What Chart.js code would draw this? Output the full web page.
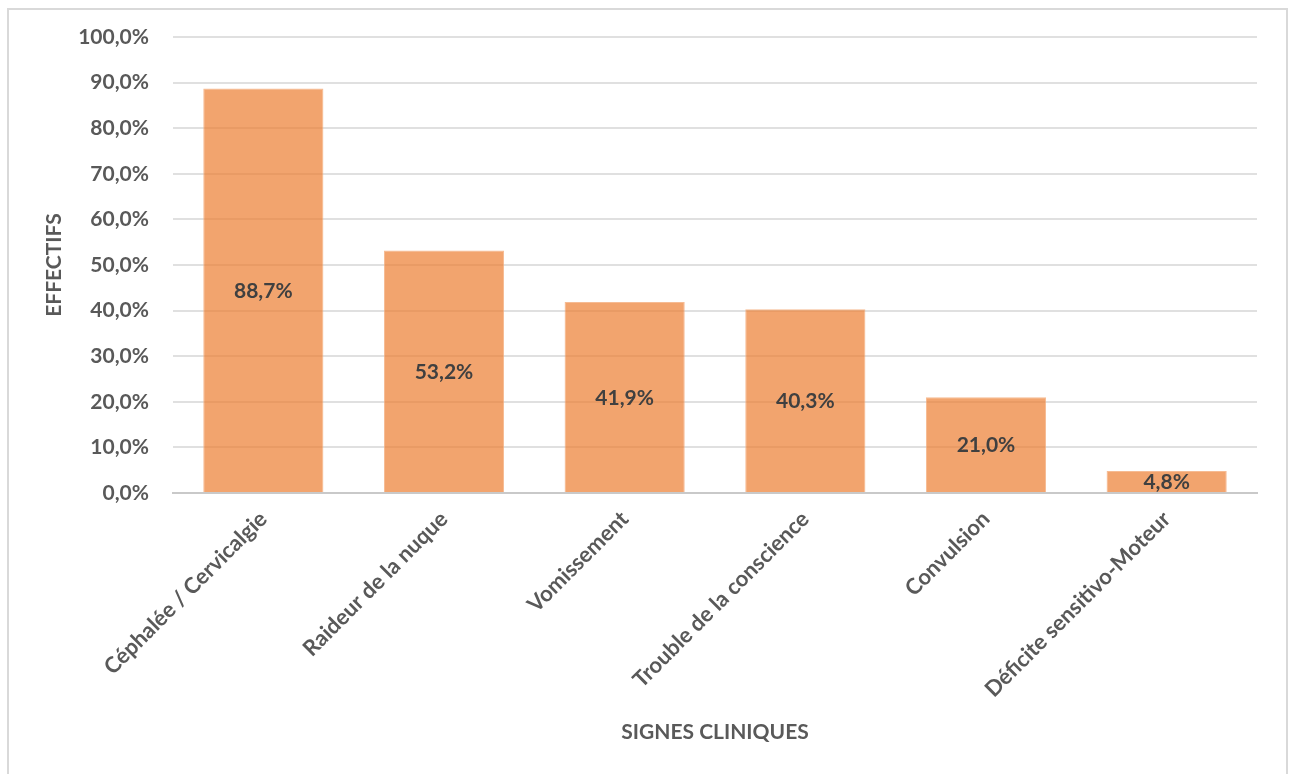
<!DOCTYPE html>
<html>
<head>
<meta charset="utf-8">
<script src="https://cdn.jsdelivr.net/npm/chart.js@4"></script>
<style>
  body { margin:0; background:#fff; }
  #wrap { position:relative; width:1290px; height:774px; overflow:hidden; }
  #frame { position:absolute; left:7px; top:8px; width:1277px; height:790px; border:2px solid #d9d9d9; }
  #chart { position:absolute; left:0; top:0; }
</style>
</head>
<body>
<div id="wrap">
  <div id="frame"></div>
  <canvas id="chart" width="1290" height="774"></canvas>
</div>
<script>
const signes = ['Céphalée / Cervicalgie','Raideur de la nuque','Vomissement','Trouble de la conscience','Convulsion','Déficite sensitivo-Moteur'];
const pourcentages = [88.7, 53.2, 41.9, 40.3, 21.0, 4.8];
const yTicks = [0,10,20,30,40,50,60,70,80,90,100];

const fmt = v => v.toFixed(1).replace('.', ',') + '%';
const FONT = 'Lato, "Open Sans", sans-serif';

// value labels centred in each bar
const barLabels = {
  id:'barLabels',
  afterDatasetsDraw(chart){
    const ctx = chart.ctx;
    const meta = chart.getDatasetMeta(0);
    ctx.save();
    ctx.font = 'bold 21px ' + FONT;
    ctx.fillStyle = '#404040';
    ctx.textAlign = 'center';
    ctx.textBaseline = 'middle';
    meta.data.forEach((bar, i) => {
      const p = bar.getCenterPoint();
      ctx.fillText(fmt(pourcentages[i]), p.x, p.y + 1);
    });
    ctx.restore();
  }
};

new Chart(document.getElementById('chart'), {
  type:'bar',
  data:{ labels:signes, datasets:[{
    data:pourcentages,
    backgroundColor:'rgba(237,125,49,0.7)',
    borderColor:'rgba(244,170,120,0.8)',
    borderWidth:1,
    barPercentage:0.665,
    categoryPercentage:1
  }]},
  options:{
    responsive:false,
    animation:false,
    layout:{ padding:{ left:38, top:37, right:33, bottom:25 } },
    plugins:{ legend:{ display:false }, tooltip:{ enabled:false } },
    scales:{
      x:{
        grid:{ display:false, drawTicks:false },
        border:{ color:'#c9c9c9', width:2 },
        ticks:{ color:'#595959', font:{ family:FONT, size:22, weight:'bold' }, minRotation:45, maxRotation:45, padding:13 },
        title:{ display:true, text:'SIGNES CLINIQUES', color:'#595959', font:{ family:FONT, size:21, weight:'bold' } },
        afterFit(s){ s.height = 256; }
      },
      y:{
        min:0, max:100,
        afterBuildTicks(s){ s.ticks = yTicks.map(v => ({ value:v })); },
        grid:{ color:'#e0e0e0', lineWidth:2, drawTicks:false },
        border:{ display:false },
        ticks:{ color:'#595959', font:{ family:FONT, size:21, weight:'bold' }, padding:24, callback:v => fmt(v) },
        title:{ display:true, text:'EFFECTIFS', color:'#595959', font:{ family:FONT, size:21, weight:'bold' } },
        afterFit(s){ s.width = 135; }
      }
    }
  },
  plugins:[barLabels]
});
</script>
</body>
</html>
